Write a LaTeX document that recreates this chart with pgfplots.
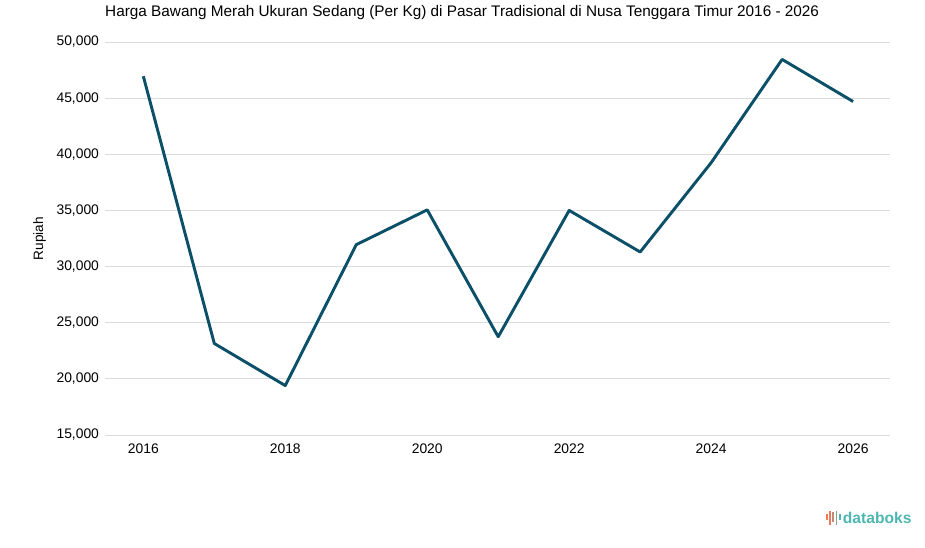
\documentclass[border=0pt]{standalone}
\usepackage{pgfplots}
\pgfplotsset{compat=1.18}
\usepackage{fontspec}
\setmainfont{Liberation Sans}
\definecolor{lineblue}{HTML}{0B5068}
\definecolor{gridgray}{HTML}{DCDCDC}
\definecolor{dbteal}{HTML}{4DB6B0}
\definecolor{dborange}{HTML}{EF7A5A}
\begin{document}
\begin{tikzpicture}
\path[use as bounding box] (0,0) rectangle (693.75pt,410.25pt);
\begin{axis}[
  at={(78.75pt,84pt)}, anchor=south west,
  scale only axis,
  width=588.75pt, height=294.75pt,
  xmin=2015.46, xmax=2026.52,
  ymin=15000, ymax=50000,
  xtick={2016,2018,...,2026},
  ytick={15000,20000,...,50000},
  scaled y ticks=false,
  axis line style={draw=none},
  tick style={draw=none},
  ymajorgrids,
  grid style={gridgray, line width=0.6pt},
  /pgf/number format/assume math mode=true,
  xticklabel={\pgfmathprintnumber[1000 sep={}, fixed]{\tick}},
  yticklabel={\pgfmathprintnumber[1000 sep={,}, fixed]{\tick}},
  tick label style={font=\fontsize{10.4}{12}\selectfont, text=black},
  xticklabel style={yshift=-3pt},
  yticklabel style={xshift=-1pt},
  ylabel={Rupiah},
  ylabel style={font=\fontsize{10.2}{12}\selectfont, at={(axis description cs:0,0.5)}, anchor=center, yshift=49pt},
  title={Harga Bawang Merah Ukuran Sedang (Per Kg) di Pasar Tradisional di Nusa Tenggara Timur 2016 - 2026},
  title style={font=\fontsize{11.5}{13}\selectfont, anchor=south, at={(axis description cs:0.455,1)}, yshift=7pt},
  clip=false,
]
\addplot[lineblue, line width=2.2pt, line join=round] coordinates {
  (2016,46950) (2017,23150) (2018,19400) (2019,31950) (2020,35050)
  (2021,23750) (2022,35000) (2023,31300) (2024,39250) (2025,48450) (2026,44700)
};
\end{axis}
% logo
\begin{scope}[shift={(619.5pt,17pt)}]
  \fill[dborange] (0pt,3pt) rectangle (1.4pt,8pt);
  \fill[dborange] (2.4pt,-0.5pt) rectangle (3.8pt,10pt);
  \fill[dborange!70!dbteal] (4.8pt,1.5pt) rectangle (6.2pt,9pt);
  \fill[dborange!40!dbteal] (7.2pt,-0.5pt) rectangle (8.6pt,10pt);
  \fill[dbteal] (9.6pt,3pt) rectangle (11pt,8pt);
\end{scope}
\node[anchor=west, text=dbteal, font=\fontsize{11.7}{13}\selectfont\bfseries, inner sep=0pt] at (632pt,22pt) {databoks};
\end{tikzpicture}
\end{document}
